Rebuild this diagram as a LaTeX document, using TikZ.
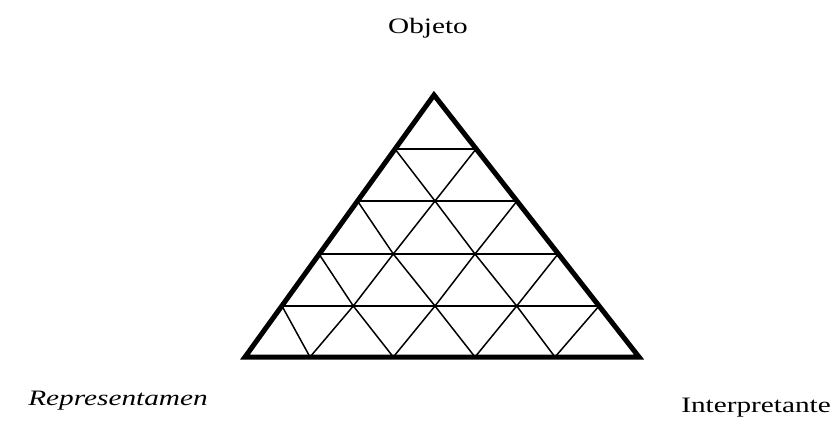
\documentclass[tikz,border=0pt]{standalone}
\usepackage{fontspec}
\setmainfont{Liberation Serif}
\begin{document}
\begin{tikzpicture}[x=1pt,y=-1pt,
  outer/.style={line width=5pt,line join=miter,line cap=round},
  inner/.style={line width=1.5pt},
  lbl/.style={font=\fontsize{22}{24}\selectfont,inner sep=0pt}]
\useasboundingbox (0,0) rectangle (837,426);
% outer vertices
\coordinate (A) at (434,95);
\coordinate (B) at (245,357);
\coordinate (C) at (639,357);
% edge points on rows
\coordinate (L0) at (395,149); \coordinate (R0) at (476,149);
\coordinate (L1) at (357.5,201); \coordinate (R1) at (517,201);
\coordinate (L2) at (319,254); \coordinate (R2) at (558,254);
\coordinate (L3) at (282,306); \coordinate (R3) at (599,306);
% interior points
\coordinate (p11) at (435,201);
\coordinate (p21) at (393.3,254); \coordinate (p22) at (475,254);
\coordinate (p31) at (353.3,306); \coordinate (p32) at (435,306); \coordinate (p33) at (516.7,306);
\coordinate (p41) at (310,357); \coordinate (p42) at (393.3,357); \coordinate (p43) at (475,357); \coordinate (p44) at (555,357);
% horizontal lines
\draw[inner] (L0) -- (R0);
\draw[inner] (L1) -- (R1);
\draw[inner] (L2) -- (R2);
\draw[inner] (L3) -- (R3);
% diagonals
\draw[inner] (L0) -- (p11) -- (R0);
\draw[inner] (L1) -- (p21) -- (p11) -- (p22) -- (R1);
\draw[inner] (L2) -- (p31) -- (p21) -- (p32) -- (p22) -- (p33) -- (R2);
\draw[inner] (L3) -- (p41) -- (p31) -- (p42) -- (p32) -- (p43) -- (p33) -- (p44) -- (R3);
% outline
\draw[outer] (A) -- (B) -- (C) -- cycle;
% labels
\node[lbl] (obj) at (428,28) {\scalebox{1.33}[1]{Objeto}};
\node[lbl] (rep) at (118,401) {\scalebox{1.33}[1]{\itshape Representamen}};
\node[lbl] (int) at (756,408) {\scalebox{1.33}[1]{Interpretante}};
\end{tikzpicture}
\end{document}
